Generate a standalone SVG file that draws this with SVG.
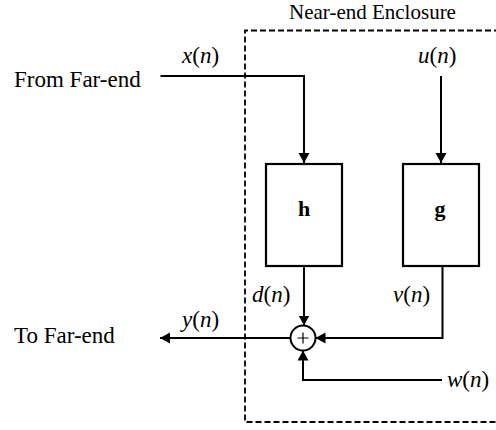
<svg xmlns="http://www.w3.org/2000/svg" width="496" height="430" viewBox="0 0 496 430">
<defs>
<style>
text{font-family:"Liberation Serif","Times New Roman",serif;font-size:23px;fill:#000}
.i{font-style:italic}
.b{font-weight:bold;font-size:22px}
.t{font-size:21px}
.ln{fill:none;stroke:#000;stroke-width:2}
.box{fill:#fff;stroke:#000;stroke-width:2.2}
.dash{fill:none;stroke:#000;stroke-width:1.8;stroke-dasharray:6 3}
</style>
<marker id="ah" markerUnits="userSpaceOnUse" markerWidth="12" markerHeight="12" viewBox="0 0 12 12" refX="10" refY="6" orient="auto">
<path d="M0,0.5 L10,6 L0,11.5 Z" fill="#000"/>
</marker>
</defs>
<rect width="496" height="430" fill="#fff"/>
<g id="enclosure">
<path class="dash" d="M500 30.5 H245 V422 H500"/>
<text class="t" x="372.5" y="18.5" text-anchor="middle">Near-end Enclosure</text>
</g>
<g id="connectors">
<path class="ln" d="M160.5 76 H304 V163" marker-end="url(#ah)"/>
<path class="ln" d="M441 76 V163" marker-end="url(#ah)"/>
<path class="ln" d="M304 266 V325.5" marker-end="url(#ah)"/>
<path class="ln" d="M442.5 266 V338 H315.5" marker-end="url(#ah)"/>
<path class="ln" d="M442 380 H303 V350.5" marker-end="url(#ah)"/>
<path class="ln" d="M290.5 338 H160" marker-end="url(#ah)"/>
</g>
<g id="node-h">
<rect class="box" x="266" y="164" width="76" height="102"/>
<text class="b" x="304" y="216" text-anchor="middle">h</text>
</g>
<g id="node-g">
<rect class="box" x="403" y="164" width="76" height="102"/>
<text class="b" x="440" y="216" text-anchor="middle">g</text>
</g>
<g id="node-sum">
<circle cx="303" cy="338" r="12.5" fill="#fff" stroke="#000" stroke-width="2"/>
<path d="M297.5 338 H308.5 M303 332.5 V343.5" stroke="#000" stroke-width="1.2"/>
</g>
<g id="labels">
<text x="14" y="86.5">From Far-end</text>
<text x="14" y="342.5">To Far-end</text>
<text x="182" y="62.5"><tspan class="i">x</tspan>(<tspan class="i">n</tspan>)</text>
<text x="418" y="62.5"><tspan class="i">u</tspan>(<tspan class="i">n</tspan>)</text>
<text x="252" y="302"><tspan class="i">d</tspan>(<tspan class="i">n</tspan>)</text>
<text x="393" y="302"><tspan class="i">v</tspan>(<tspan class="i">n</tspan>)</text>
<text x="182" y="326.5"><tspan class="i">y</tspan>(<tspan class="i">n</tspan>)</text>
<text x="447" y="386.5"><tspan class="i">w</tspan>(<tspan class="i">n</tspan>)</text>
</g>
</svg>
